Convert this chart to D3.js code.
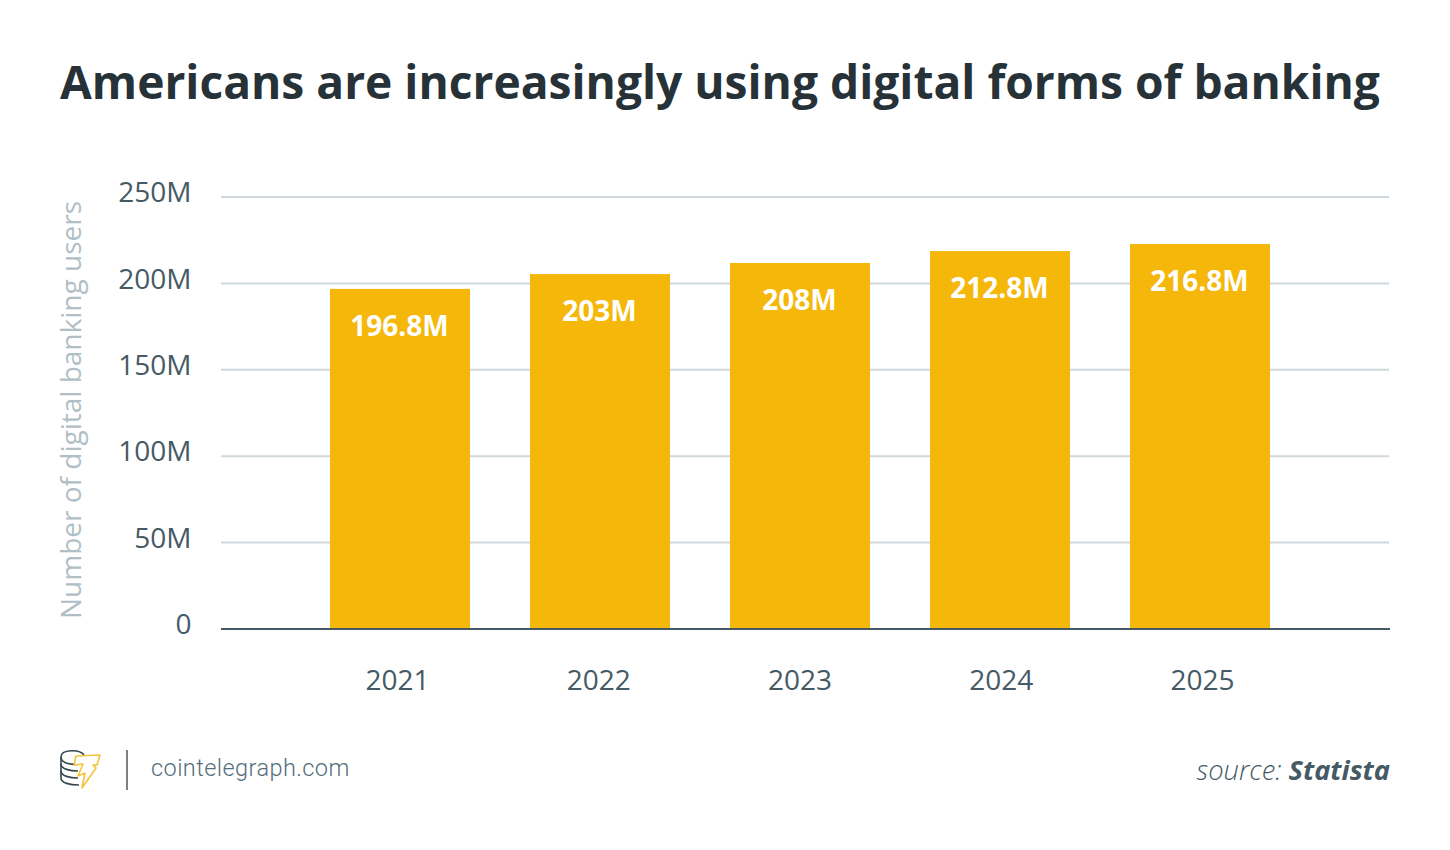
<!DOCTYPE html>
<html>
<head>
<meta charset="utf-8">
<script src="https://cdn.jsdelivr.net/npm/d3@7"></script>
<style>
  html, body { margin: 0; padding: 0; background: #fff; }
  svg { display: block; }
  text { font-family: "Open Sans", sans-serif; }
</style>
</head>
<body>
<script>
// values
var years = ["2021", "2022", "2023", "2024", "2025"];
var barHeights = [196.8, 205.4, 211.8, 218.7, 222.8]; // the drawn bars run a bit taller than their labels
var barLabels = ["196.8M", "203M", "208M", "212.8M", "216.8M"];
var yTicks = [0, 50, 100, 150, 200, 250];

var svg = d3.select("body").append("svg")
  .attr("width", 1450)
  .attr("height", 850);

var y = d3.scaleLinear().domain([0, 250]).range([629, 197]);
var xBars = d3.scaleBand().domain(years).range([300, 1300]).paddingInner(0.3).paddingOuter(0.15);
var xLabels = d3.scalePoint().domain(years).range([397, 1202]);

// title
svg.append("text")
  .attr("x", 60).attr("y", 99)
  .attr("font-size", 46.15).attr("font-weight", 700).attr("fill", "#263238")
  .text("Americans are increasingly using digital forms of banking");

// grid + y tick labels
var yAxis = svg.append("g")
  .attr("transform", "translate(221,0)")
  .call(d3.axisLeft(y).tickValues(yTicks).tickSize(-1168).tickPadding(29.5)
    .tickFormat(function(d) { return d === 0 ? "0" : d + "M"; }));
yAxis.select(".domain").remove();
yAxis.selectAll("line").attr("stroke", "#cfd8dc").attr("stroke-width", 2).attr("transform", "translate(0,-0.5)");
yAxis.selectAll("text")
  .attr("font-size", 28).attr("fill", "#455a64")
  .attr("dy", "0.17em");
yAxis.selectAll("text").style("font-family", '"Open Sans", sans-serif');

// y axis title
svg.append("text")
  .attr("transform", "translate(81,410) rotate(-90)")
  .attr("text-anchor", "middle")
  .attr("font-size", 28).attr("fill", "#b0bec5")
  .text("Number of digital banking users");

// bars
svg.selectAll("rect.bar")
  .data(years)
  .enter().append("rect")
  .attr("class", "bar")
  .attr("x", function(d) { return xBars(d); })
  .attr("width", xBars.bandwidth())
  .attr("y", function(d, i) { return y(barHeights[i]); })
  .attr("height", function(d, i) { return y(0) - y(barHeights[i]); })
  .attr("fill", "#f5b70a");

// bar labels
svg.selectAll("text.barlabel")
  .data(years)
  .enter().append("text")
  .attr("class", "barlabel")
  .attr("x", function(d) { return xBars(d) + xBars.bandwidth() / 2 - 0.5; })
  .attr("y", function(d, i) { return y(barHeights[i]) + 47; })
  .attr("text-anchor", "middle")
  .attr("font-size", 28).attr("font-weight", 700).attr("fill", "#fff")
  .text(function(d, i) { return barLabels[i]; });

// x axis
var xAxis = svg.append("g")
  .attr("transform", "translate(0,629)")
  .call(d3.axisBottom(xLabels).tickSize(0).tickPadding(41));
xAxis.select(".domain").remove();
xAxis.selectAll("text")
  .attr("font-size", 28).attr("fill", "#455a64")
  .style("font-family", '"Open Sans", sans-serif');
svg.append("line")
  .attr("x1", 221).attr("x2", 1390)
  .attr("y1", 629).attr("y2", 629)
  .attr("stroke", "#455a64").attr("stroke-width", 2);

// footer logo
var logo = svg.append("g").attr("fill", "none").attr("stroke-linejoin", "round");
var coins = logo.append("g").attr("stroke", "#37474f").attr("stroke-width", 1.6);
coins.append("path").attr("d", "M84 755 C80 749 61 749 61 757 C61 764 72 765 82 764");
coins.append("path").attr("d", "M61 757 L61 778 C61 783 70 785 79 785");
coins.append("path").attr("d", "M61 764 C61 769 70 771 78 771");
coins.append("path").attr("d", "M61 771 C61 776 70 778 78 778");
logo.append("path")
  .attr("stroke", "#f5c33b").attr("stroke-width", 1.6).attr("fill", "#fff")
  .attr("d", "M76 756 L100 755 L97 765 L93 765 L96 768 L82 788 L85 773 L78 776 L83 764 L74 765 Z");

svg.append("line")
  .attr("x1", 127).attr("x2", 127).attr("y1", 750).attr("y2", 790)
  .attr("stroke", "#808080").attr("stroke-width", 2);

svg.append("text")
  .attr("x", 151).attr("y", 776)
  .attr("font-size", 23.5).attr("fill", "#546e7a")
  .style("font-family", "Roboto, sans-serif").style("font-weight", 300)
  .attr("letter-spacing", 0.43)
  .text("cointelegraph.com");

// source
var source = svg.append("text")
  .attr("x", 1390).attr("y", 780)
  .attr("text-anchor", "end")
  .attr("font-size", 27.3).attr("fill", "#455a64").attr("font-style", "italic");
source.append("tspan").attr("font-weight", 300).text("source: ");
source.append("tspan").attr("font-weight", 700).text("Statista");
</script>
</body>
</html>
